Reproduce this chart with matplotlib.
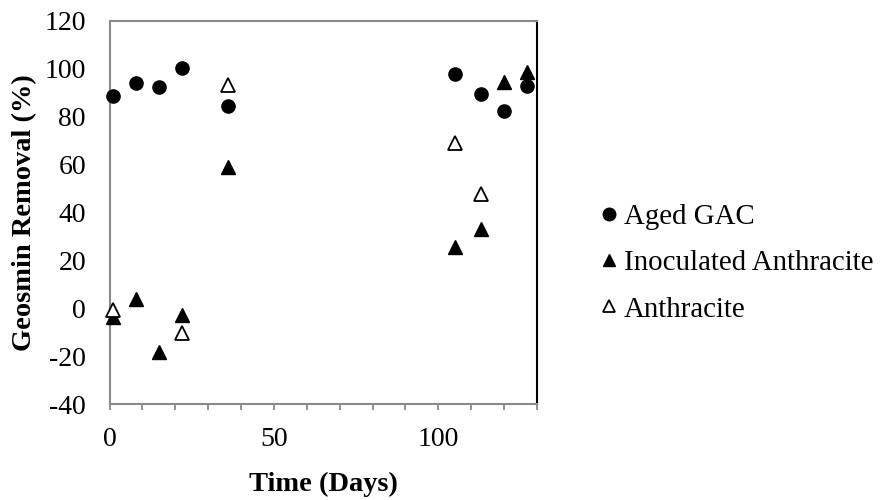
import matplotlib
matplotlib.use("Agg")
import matplotlib.pyplot as plt
from matplotlib.ticker import MultipleLocator

# Data
gac_days = [1, 8, 15, 22, 36, 105, 113, 120, 127]
gac_vals = [88.7, 94, 92.3, 100.2, 84.6, 97.7, 89.4, 82.5, 93]

inoc_days = [1, 8, 15, 22, 36, 105, 113, 120, 127]
inoc_vals = [-3.5, 3.8, -18.3, -2.9, 58.9, 25.7, 33, 94.7, 98.5]

anth_days = [1, 22, 36, 105, 113]
anth_vals = [-0.7, -10.2, 93.3, 69.2, 47.7]

labels = ["Aged GAC", "Inoculated Anthracite", "Anthracite"]
y_ticks = [-40, -20, 0, 20, 40, 60, 80, 100, 120]
x_ticks = [0, 50, 100]

plt.rcParams['font.family'] = ['Liberation Serif', 'DejaVu Serif']
plt.rcParams['axes.unicode_minus'] = False

fig = plt.figure(figsize=(8.82, 5.0), dpi=100)
ax = fig.add_axes([109.5/882, 1 - 404/500, (537 - 109.5)/882, (404 - 21)/500])

ms = 9.5
ax.plot(gac_days, gac_vals, linestyle='none', marker='o', ms=ms,
        color='black', label=labels[0], clip_on=False, zorder=3)
ax.plot(inoc_days, inoc_vals, linestyle='none', marker='^', ms=ms,
        color='black', label=labels[1], clip_on=False, zorder=4)
ax.plot(anth_days, anth_vals, linestyle='none', marker='^', ms=ms,
        markerfacecolor='white', markeredgecolor='black', markeredgewidth=1.3,
        label=labels[2], clip_on=False, zorder=5)

ax.set_xlim(0, 130)
ax.set_ylim(-40, 120)
ax.set_yticks(y_ticks)
ax.set_xticks(x_ticks)
ax.xaxis.set_minor_locator(MultipleLocator(10))

gray = '#8a8a8a'
for s in ['left', 'bottom', 'top']:
    ax.spines[s].set_color(gray)
    ax.spines[s].set_linewidth(1.5)
ax.spines['right'].set_color('black')
ax.spines['right'].set_linewidth(1.5)

ax.tick_params(axis='y', length=0, pad=17, labelsize=20)
ax.tick_params(axis='x', which='both', direction='out', length=4.5, width=1.3,
               color=gray, pad=12, labelsize=20)

ax.set_xlabel("Time (Days)", fontsize=20.5, fontweight='bold', labelpad=14)
ax.set_ylabel("Geosmin Removal (%)", fontsize=20.5, fontweight='bold', labelpad=5)

leg = ax.legend(loc='center left', bbox_to_anchor=(595/882, 1 - 263/500),
                bbox_transform=fig.transFigure, frameon=False, fontsize=20.8,
                handletextpad=0.0, labelspacing=0.7, handlelength=1.0,
                markerscale=0.95, borderaxespad=0, borderpad=0)

fig.savefig("out.png", dpi=100)
